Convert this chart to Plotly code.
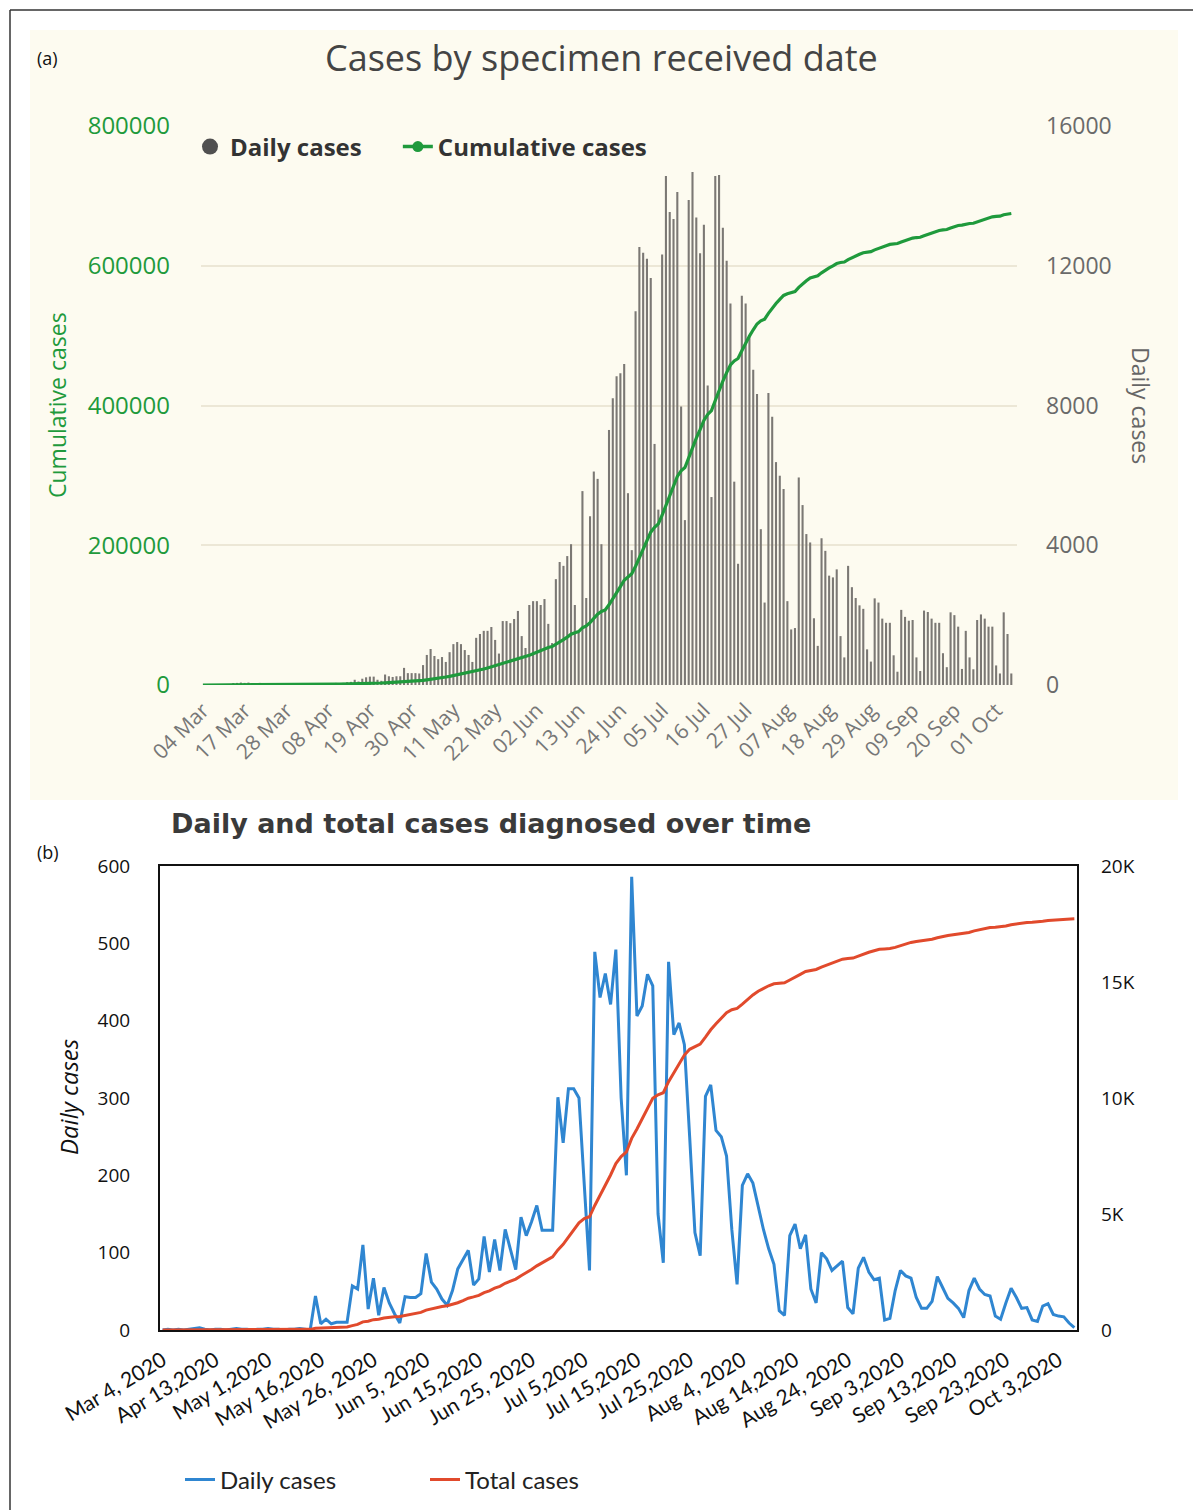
import pandas as pd
import plotly.graph_objects as go
from itertools import accumulate

W, H = 1193, 1510


def px(x):
    return x / W


def py(y):
    return 1 - y / H


# ---------------- Panel (a): cases by specimen received date ----------------
DAILY_A = [
    0, 0, 0, 0, 10, 10, 20, 20, 30,
    60, 70, 60, 70, 40, 30, 60, 40,
    20, 20, 30, 20, 20, 30, 30, 20, 30, 40, 30, 30, 40, 30, 40, 50, 40, 50, 60, 50, 60, 80, 90,
    150, 100, 180, 220, 240, 240, 150, 120, 300, 250,
    230, 250, 250, 490, 340, 340, 340, 330, 570,
    860, 1030, 830, 740, 800, 660, 940, 1170, 1230, 1170, 1000, 860,
    660, 1350, 1460, 1550, 1550, 1660, 1290, 900, 1830, 1830, 1770, 1890, 2120,
    1400, 1060, 2290, 2400, 2400, 2290, 2460, 1750, 1200, 3030, 3520, 3410, 3690, 4030, 2290, 1490, 5550, 2490,
    4830, 6110, 5900, 4030, 2180, 7300, 8210, 8840, 8920, 9190, 5490, 3860,
    10700, 12540, 12370, 12200, 11650, 6900, 5020, 12320, 14570, 13540, 13340, 14110, 7970, 4720, 13880, 14680,
    13380, 12360, 13170, 8570, 5380, 14570, 14600, 13090, 12140, 10920, 5820, 3470, 11140, 10920, 10000, 9020, 8330,
    4460, 2360, 8360, 7680, 6380, 5990, 5610, 2400, 1590, 1630, 5940, 5150, 4320, 4080,
    1910, 1120, 4200, 3840, 3130, 3080, 3310, 1400, 790, 3410, 2800, 2490, 2280, 2180, 1020,
    670, 2480, 2360, 1900, 1780, 1780, 850, 380, 2150, 1950, 1840, 1860, 790, 400,
    2130, 2090, 1900, 1780, 1780, 910, 510, 2080, 2000, 1670, 460, 1550, 790, 450,
    1860, 2020, 1900, 1670, 1670, 560, 330, 2080, 1460, 330,
]
CUMULATIVE_A = list(accumulate(DAILY_A))

DATES_A = [pd.Timestamp("2020-03-04")] + list(
    pd.date_range("2020-03-07", periods=len(DAILY_A) - 1)
)
CATS_A = [d.strftime("%Y-%m-%d") for d in DATES_A]
TICKVALS_A = CATS_A[::11]
TICKTEXT_A = [d.strftime("%d %b") for d in DATES_A[::11]]
CUM_TICKS = [0, 200000, 400000, 600000, 800000]
DAILY_TICKS_A = [0, 4000, 8000, 12000, 16000]

# ---------------- Panel (b): daily and total cases diagnosed ----------------
DAILY_B = [
    0, 1, 0, 1, 0, 1, 2, 3, 1, 0, 1, 1, 0, 1, 2, 1, 1, 0, 1, 1, 2, 1, 1, 0, 1, 1, 2, 1, 0,
    44, 8, 14, 8, 10, 10, 10, 57, 53, 110, 27, 67, 19, 55, 35, 21, 9, 43, 42, 42,
    47, 99, 62, 53, 40, 32, 51, 79, 92, 103, 58, 66, 121, 75, 117, 77, 130, 105, 78, 146,
    122, 140, 161, 129, 129, 129,
    301, 242, 312, 312, 300, 184, 77, 489, 430, 461, 421, 492,
    300, 200, 586, 406, 419, 460, 445, 150, 87, 476, 382, 397, 369, 250, 126, 96, 302, 317,
    258, 250, 225, 130, 59, 187, 202, 190,
    160, 130, 105, 85, 25, 19, 122, 137, 105, 123, 53, 35, 100, 92, 77, 83, 89, 29, 21, 80,
    94, 75, 65, 67, 13, 15, 51, 77, 70, 67, 42, 28, 28, 37, 69, 55, 41, 35, 28, 16,
    51, 67, 53, 46, 44, 18, 14, 35, 54, 42, 28, 29, 13, 11, 31, 34, 20, 18, 17, 9, 3,
]
TOTAL_B = list(accumulate(DAILY_B))

EARLY_DATES_B = [
    "2020-03-04", "2020-03-08", "2020-03-12", "2020-03-16", "2020-03-20", "2020-03-24",
    "2020-03-28", "2020-04-01", "2020-04-05", "2020-04-09", "2020-04-13", "2020-04-15",
    "2020-04-17", "2020-04-19", "2020-04-21", "2020-04-23", "2020-04-25", "2020-04-27",
    "2020-04-28", "2020-04-30", "2020-05-01", "2020-05-03", "2020-05-04", "2020-05-06",
    "2020-05-07", "2020-05-09", "2020-05-10", "2020-05-12", "2020-05-13", "2020-05-15",
]
CATS_B = EARLY_DATES_B + [
    d.strftime("%Y-%m-%d")
    for d in pd.date_range("2020-05-16", periods=len(DAILY_B) - len(EARLY_DATES_B))
]
TICKVALS_B = CATS_B[::10]
TICKTEXT_B = [
    "Mar 4, 2020", "Apr 13,2020", "May 1,2020", "May 16,2020", "May 26, 2020",
    "Jun 5, 2020", "Jun 15,2020", "Jun 25, 2020", "Jul 5,2020", "Jul 15,2020",
    "Jul 25,2020", "Aug 4, 2020", "Aug 14,2020", "Aug 24, 2020", "Sep 3,2020",
    "Sep 13,2020", "Sep 23,2020", "Oct 3,2020",
]
DAILY_TICKS_B = [0, 100, 200, 300, 400, 500, 600]
TOTAL_TICKS_B = [0, 5000, 10000, 15000, 20000]
TOTAL_TICKTEXT_B = ["0", "5K", "10K", "15K", "20K"]

GREEN = "#1f9a3c"
BAR = "#7b7874"
BLUE = "#2f86d1"
RED = "#e14a2c"
NB = "\u00a0"

fig = go.Figure()

# Panel (a) traces
fig.add_trace(go.Bar(x=CATS_A, y=DAILY_A, xaxis="x", yaxis="y",
                     marker=dict(color=BAR, line=dict(width=0)),
                     showlegend=False, name="Daily cases"))
fig.add_trace(go.Scatter(x=CATS_A, y=CUMULATIVE_A, xaxis="x", yaxis="y2",
                         mode="lines", line=dict(color=GREEN, width=3.2),
                         showlegend=False, name="Cumulative cases"))
# legend entries of panel (a)
fig.add_trace(go.Scatter(x=[None], y=[None], xaxis="x", yaxis="y", mode="markers",
                         marker=dict(symbol="circle", size=22, color="#505050"),
                         name="Daily cases" + NB * 5, legend="legend"))
fig.add_trace(go.Scatter(x=[None], y=[None], xaxis="x", yaxis="y", mode="lines+markers",
                         marker=dict(symbol="circle", size=11, color=GREEN),
                         line=dict(color=GREEN, width=3.5),
                         name="Cumulative cases", legend="legend"))

# Panel (b) traces
fig.add_trace(go.Scatter(x=CATS_B, y=DAILY_B, xaxis="x2", yaxis="y3", mode="lines",
                         line=dict(color=BLUE, width=3), name="Daily cases",
                         legend="legend2"))
fig.add_trace(go.Scatter(x=CATS_B, y=TOTAL_B, xaxis="x2", yaxis="y4", mode="lines",
                         line=dict(color=RED, width=3), name="Total cases",
                         legend="legend2"))

fig.update_layout(
    template="none",
    width=W, height=H, autosize=False,
    margin=dict(l=0, r=0, t=0, b=0, pad=0),
    paper_bgcolor="white",
    plot_bgcolor="rgba(0,0,0,0)",
    font=dict(family="Open Sans", color="#333"),
    bargap=0.45,
    xaxis=dict(
        domain=[px(201), px(1017)], anchor="y", type="category",
        categoryorder="array", categoryarray=CATS_A,
        range=[-0.5, len(CATS_A) + 0.5],
        tickmode="array", tickvals=TICKVALS_A, ticktext=TICKTEXT_A,
        tickangle=-45, tickfont=dict(size=21, color="#777"),
        ticks="", ticklabelstandoff=8, automargin=False,
        showgrid=False, showline=False, zeroline=False,
    ),
    yaxis=dict(
        domain=[py(685), py(126)], anchor="x", side="right",
        range=[0, 16000], tickmode="array", tickvals=DAILY_TICKS_A,
        tickformat="d",
        tickfont=dict(size=23, color="#6a6a6a"), ticklabelstandoff=28,
        showgrid=True, gridcolor="#ece7d6", gridwidth=1.5, automargin=False,
        zeroline=False, showline=False, ticks="",
    ),
    yaxis2=dict(
        overlaying="y", anchor="x", side="left",
        range=[0, 800000], tickmode="array", tickvals=CUM_TICKS,
        tickformat="d", automargin=False,
        tickfont=dict(size=24, color=GREEN), ticklabelstandoff=30,
        showgrid=False, zeroline=False, showline=False, ticks="",
    ),
    xaxis2=dict(
        domain=[px(160), px(1077)], anchor="y3", type="category",
        categoryorder="array", categoryarray=CATS_B,
        range=[-0.5, len(CATS_B) - 0.5],
        tickmode="array", tickvals=TICKVALS_B, ticktext=TICKTEXT_B,
        tickangle=-31, tickfont=dict(family="Lato", size=21, color="#111"),
        ticks="", ticklabelstandoff=8, automargin=False,
        showgrid=False, showline=True, linecolor="#111", linewidth=2, mirror=True,
        zeroline=False,
    ),
    yaxis3=dict(
        domain=[py(1330), py(866)], anchor="x2",
        range=[0, 600], tickmode="array", tickvals=DAILY_TICKS_B,
        tickfont=dict(size=19, color="#111"), ticklabelstandoff=24, automargin=False,
        showgrid=False, showline=True, linecolor="#111", linewidth=2, mirror=True,
        zeroline=False, ticks="",
    ),
    yaxis4=dict(
        overlaying="y3", anchor="x2", side="right",
        range=[0, 20000], tickmode="array", tickvals=TOTAL_TICKS_B,
        ticktext=TOTAL_TICKTEXT_B, automargin=False,
        tickfont=dict(size=19, color="#111"), ticklabelstandoff=23,
        showgrid=False, zeroline=False, showline=False, ticks="",
    ),
    legend=dict(
        x=px(190), y=py(147), xanchor="left", yanchor="middle",
        orientation="h", bgcolor="rgba(0,0,0,0)",
        font=dict(family="Open Sans", size=24, color="#333", weight="bold"),
        itemsizing="trace",
    ),
    legend2=dict(
        x=px(180), y=py(1480), xanchor="left", yanchor="middle",
        orientation="h", bgcolor="rgba(0,0,0,0)",
        font=dict(family="Lato", size=24, color="#222"),
        entrywidth=200,
    ),
    shapes=[
        dict(type="rect", xref="paper", yref="paper",
             x0=px(30), x1=px(1178), y0=py(800), y1=py(30),
             fillcolor="#fdfbf0", line=dict(width=0), layer="below"),
        dict(type="line", xref="paper", yref="paper",
             x0=px(10), x1=px(1193), y0=py(10), y1=py(10),
             line=dict(color="#333", width=1.5)),
        dict(type="line", xref="paper", yref="paper",
             x0=px(10), x1=px(10), y0=py(10), y1=py(1510),
             line=dict(color="#333", width=1.5)),
    ],
    annotations=[
        dict(text="(a)", x=px(35), y=py(58), xref="paper", yref="paper",
             xanchor="left", yanchor="middle", showarrow=False,
             font=dict(size=18, color="#111")),
        dict(text="Cases by specimen received date", x=px(601), y=py(57),
             xref="paper", yref="paper", xanchor="center", yanchor="middle",
             showarrow=False, font=dict(size=36, color="#444")),
        dict(text="Cumulative cases", x=px(57), y=py(405), xref="paper", yref="paper",
             xanchor="center", yanchor="middle", textangle=-90, showarrow=False,
             font=dict(size=23, color=GREEN)),
        dict(text="Daily cases", x=px(1141), y=py(405), xref="paper", yref="paper",
             xanchor="center", yanchor="middle", textangle=90, showarrow=False,
             font=dict(size=23, color="#666")),
        dict(text="<b>Daily and total cases diagnosed over time</b>", x=px(491), y=py(823),
             xref="paper", yref="paper", xanchor="center", yanchor="middle",
             showarrow=False, font=dict(family="DejaVu Sans", size=27, color="#3a3a3a")),
        dict(text="(b)", x=px(35), y=py(852), xref="paper", yref="paper",
             xanchor="left", yanchor="middle", showarrow=False,
             font=dict(size=18, color="#111")),
        dict(text="<i>Daily cases</i>", x=px(68), y=py(1097), xref="paper", yref="paper",
             xanchor="center", yanchor="middle", textangle=-90, showarrow=False,
             font=dict(size=24, color="#111")),
    ],
)

fig.write_html(
    "out.html",
    config={"displayModeBar": False},
    post_script="document.body.style.margin='0px';document.body.style.padding='0px';",
)
